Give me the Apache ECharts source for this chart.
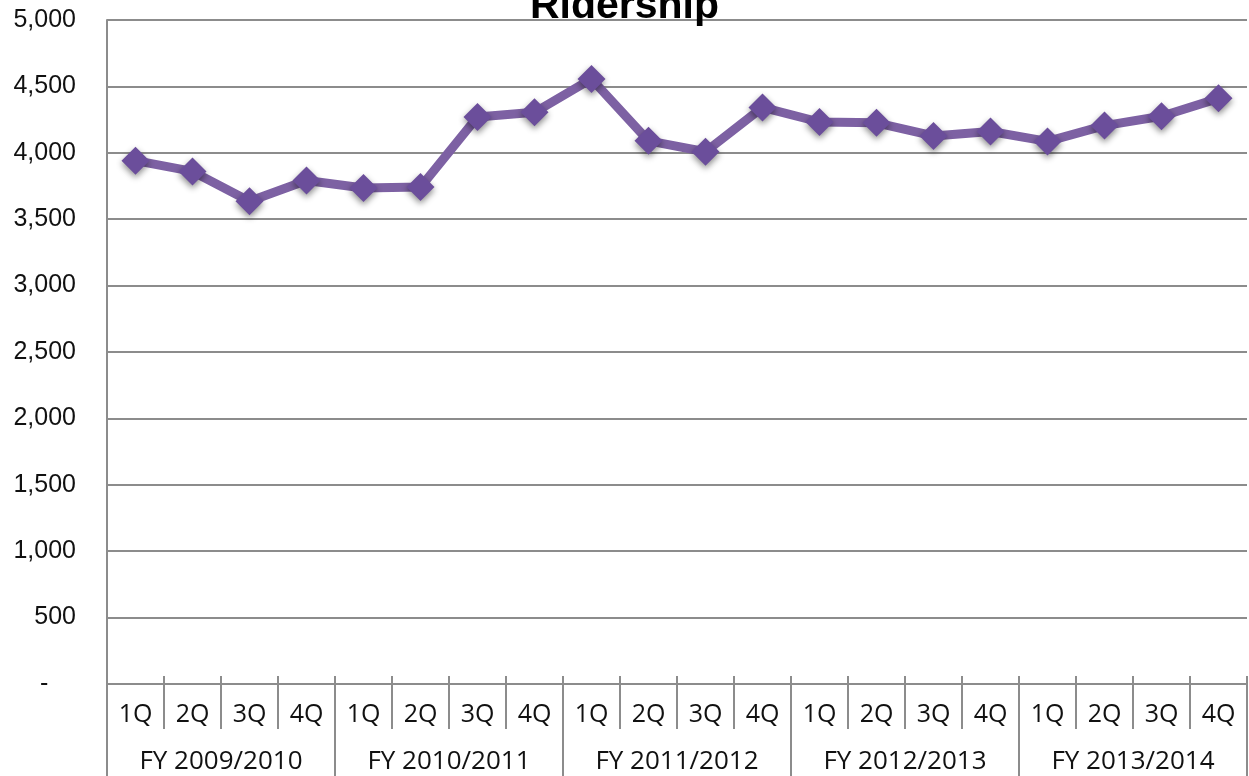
<!DOCTYPE html>
<html>
<head>
<meta charset="utf-8">
<script src="https://cdn.jsdelivr.net/npm/echarts@6/dist/echarts.min.js"></script>
<style>
  html, body { margin: 0; padding: 0; background: #fff; }
  #chart { width: 1249px; height: 776px; }
</style>
</head>
<body>
<div id="chart"></div>
<script>
// quarters under each fiscal year
const quarters = ['1Q', '2Q', '3Q', '4Q', '1Q', '2Q', '3Q', '4Q', '1Q', '2Q', '3Q', '4Q',
  '1Q', '2Q', '3Q', '4Q', '1Q', '2Q', '3Q', '4Q']
const fiscalYears = ['FY 2009/2010', 'FY 2010/2011', 'FY 2011/2012', 'FY 2012/2013', 'FY 2013/2014']
const ridership = [3941, 3860, 3635, 3792, 3735, 3742, 4270, 4305, 4556, 4090,
  4008, 4342, 4232, 4226, 4127, 4160, 4086, 4205, 4275, 4410]

const axisGray = '#8c8c8c'
const qFont = '"Open Sans", "DejaVu Sans", sans-serif'

let chart = echarts.init(document.getElementById('chart'))
chart.setOption({
  title: {
    text: 'Ridership',
    left: 'center',
    top: -19,
    textStyle: {
      fontFamily: 'Liberation Sans, Arial, sans-serif',
      fontSize: 41,
      fontWeight: 'bold',
      color: '#000'
    }
  },
  grid: {
    left: 107,
    right: 2,
    top: 20,
    bottom: 92
  },
  xAxis: [
    {
      type: 'category',
      data: quarters,
      boundaryGap: true,
      axisLine: { show: true, lineStyle: { color: axisGray, width: 2 } },
      axisTick: { show: true, interval: 0, length: 45, lineStyle: { color: axisGray, width: 2 } },
      axisLabel: {
        interval: 0,
        margin: 18,
        fontSize: 25,
        fontFamily: qFont,
        color: '#111'
      },
      splitLine: { show: false }
    },
    {
      // fiscal year row below the quarters
      type: 'category',
      data: fiscalYears,
      position: 'bottom',
      offset: 45,
      boundaryGap: true,
      axisLine: { show: false },
      axisTick: { show: true, interval: 0, length: 47, lineStyle: { color: axisGray, width: 2 } },
      axisLabel: {
        interval: 0,
        margin: 20,
        fontSize: 26,
        fontFamily: qFont,
        color: '#111'
      }
    },
    {
      // small tick stubs poking up above the axis line
      type: 'category',
      data: quarters,
      position: 'bottom',
      boundaryGap: true,
      axisLine: { show: false },
      axisTick: { show: true, inside: true, interval: 0, length: 8, lineStyle: { color: axisGray, width: 2 } },
      axisLabel: { show: false }
    }
  ],
  yAxis: {
    type: 'value',
    min: 0,
    max: 5000,
    interval: 500,
    axisLine: { show: true, lineStyle: { color: axisGray, width: 2 } },
    axisTick: { show: false },
    axisLabel: {
      margin: 31,
      fontSize: 25,
      fontFamily: 'Liberation Sans, Arial, sans-serif',
      color: '#111',
      formatter: function (v) {
        return v === 0 ? '-    ' : v.toLocaleString('en-US')
      }
    },
    splitLine: { lineStyle: { color: axisGray, width: 2 } }
  },
  series: [
    {
      name: 'Ridership',
      type: 'line',
      xAxisIndex: 0,
      data: ridership,
      symbol: 'diamond',
      symbolSize: 28,
      lineStyle: { color: '#7d61a3', width: 9 },
      itemStyle: {
        color: '#6b4e9b',
        shadowColor: 'rgba(0, 0, 0, 0.45)',
        shadowBlur: 6,
        shadowOffsetY: 3
      },
      emphasis: { disabled: true },
      animation: false
    }
  ]
})
</script>
</body>
</html>
